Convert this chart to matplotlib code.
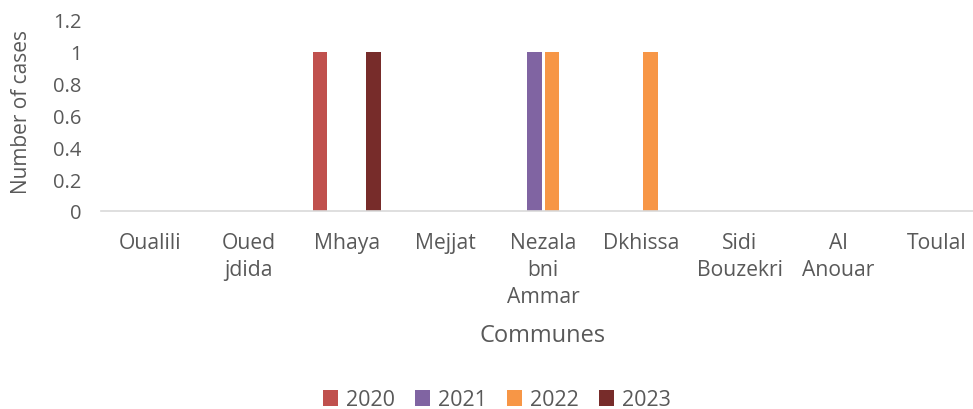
import matplotlib
matplotlib.use("Agg")
import matplotlib.pyplot as plt
import numpy as np

communes = ["Oualili", "Oued\njdida", "Mhaya", "Mejjat", "Nezala\nbni\nAmmar",
            "Dkhissa", "Sidi\nBouzekri", "Al\nAnouar", "Toulal"]
years = ["2020", "2021", "2022", "2023"]
cases_2020 = [0, 0, 1, 0, 0, 0, 0, 0, 0]
cases_2021 = [0, 0, 0, 0, 1, 0, 0, 0, 0]
cases_2022 = [0, 0, 0, 0, 1, 1, 0, 0, 0]
cases_2023 = [0, 0, 1, 0, 0, 0, 0, 0, 0]
series = [cases_2020, cases_2021, cases_2022, cases_2023]
colors = ["#C0504D", "#8064A2", "#F79646", "#772C2A"]
yticks = [0, 0.2, 0.4, 0.6, 0.8, 1, 1.2]
ytick_labels = ["0", "0.2", "0.4", "0.6", "0.8", "1", "1.2"]

plt.rcParams['font.family'] = ['Open Sans', 'DejaVu Sans']
text_color = "#595959"

fig = plt.figure(figsize=(9.73, 4.10), dpi=100)
ax = fig.add_axes([101/973, 198/410, 884.7/973, 191/410])

x = np.arange(len(communes))
slot = 0.18
width = 0.148
for i, (vals, c, lab) in enumerate(zip(series, colors, years)):
    ax.bar(x + (i - 1.5) * slot, vals, width=width, color=c, label=lab)

ax.set_xlim(-0.5, len(communes) - 0.5)
ax.set_ylim(0, 1.2)
ax.set_yticks(yticks)
ax.set_yticklabels(ytick_labels)
ax.set_xticks(x)
ax.set_xticklabels(communes, linespacing=1.38)

for s in ["top", "right", "left"]:
    ax.spines[s].set_visible(False)
ax.spines["bottom"].set_color("#D9D9D9")
ax.spines["bottom"].set_linewidth(1.2)
ax.tick_params(axis="both", length=0, colors=text_color)
ax.tick_params(axis="y", pad=14, labelsize=14.5)
ax.tick_params(axis="x", pad=15, labelsize=15.2)
for t in ax.get_xticklabels():
    t.set_verticalalignment("top")

fig.text(22/973, 1 - 112/410, "Number of cases", fontsize=15, color=text_color,
         rotation=90, ha="center", va="center")
fig.text(543/973, 1 - 336/410, "Communes", fontsize=17, color=text_color,
         ha="center", va="center")

leg = fig.legend(loc="center", bbox_to_anchor=(497/973, 1 - 401/410), ncol=4,
                 frameon=False, fontsize=15.5, handlelength=0.7, handleheight=0.7,
                 handletextpad=0.35, columnspacing=0.95)
for t in leg.get_texts():
    t.set_color(text_color)

fig.savefig("out.png", dpi=100)
